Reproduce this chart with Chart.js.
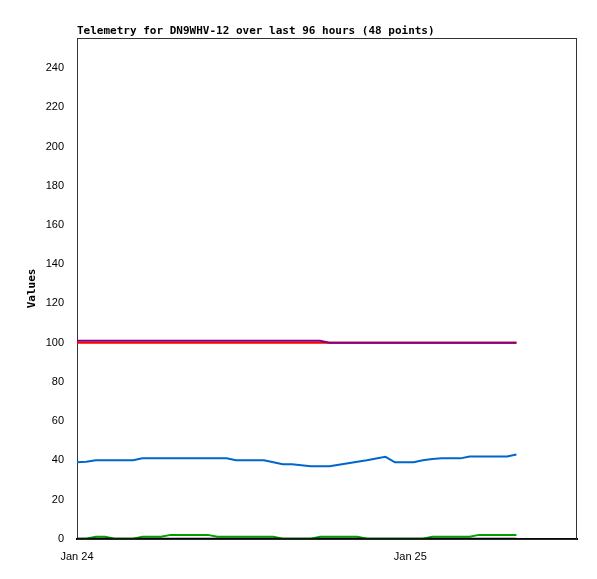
<!DOCTYPE html>
<html>
<head>
<meta charset="utf-8">
<script src="https://cdn.jsdelivr.net/npm/chart.js@4"></script>
<style>
  html, body { margin: 0; padding: 0; background: #fff; }
  #wrap { width: 597px; height: 579px; }
</style>
</head>
<body>
<div id="wrap"><canvas id="myChart" width="597" height="579"></canvas></div>
<script>
// hours since Jan 24 00:00, one per telemetry packet
const hours = [0, 0.67, 1.35, 2.02, 2.69, 3.37, 4.04, 4.71, 5.39, 6.06, 6.73, 7.41,
  8.08, 8.75, 9.42, 10.10, 10.77, 11.44, 12.12, 12.79, 13.46, 14.14, 14.81, 15.48,
  16.15, 16.83, 17.50, 18.17, 18.85, 19.52, 20.19, 20.87, 21.54, 22.21, 22.89, 23.56,
  24.23, 24.90, 25.58, 26.25, 26.92, 27.60, 28.27, 28.94, 29.62, 30.29, 30.96, 31.64];

// valeurs des canaux
const ch1 = [0,0,0,0,0,0,0,0,0,0,0,0,0,0,0,0,0,0,0,0,0,0,0,0,0,0,0,0,0,0,0,0,0,0,0,0,0,0,0,0,0,0,0,0,0,0,0,0];
const ch2 = [0,0,1,1,0,0,0,1,1,1,2,2,2,2,2,1,1,1,1,1,1,1,0,0,0,0,1,1,1,1,1,0,0,0,0,0,0,0,1,1,1,1,1,2,2,2,2,2];
const ch3 = [39,39.3,40,40,40,40,40,41,41,41,41,41,41,41,41,41,41,40,40,40,40,39,38,38,37.5,37,37,37,
  37.8,38.5,39.3,40,40.9,41.8,39,39,39,40,40.7,41,41,41,42,42,42,42,42,43];
const ch4 = [100,100,100,100,100,100,100,100,100,100,100,100,100,100,100,100,100,100,100,100,100,100,100,100,
  100,100,100,100,100,100,100,100,100,100,100,100,100,100,100,100,100,100,100,100,100,100,100,100];
const ch5 = [101,101,101,101,101,101,101,101,101,101,101,101,101,101,101,101,101,101,101,101,101,101,101,101,
  101,101,101,100,100,100,100,100,100,100,100,100,100,100,100,100,100,100,100,100,100,100,100,100];

const yTicks = [0, 20, 40, 60, 80, 100, 120, 140, 160, 180, 200, 220, 240];
const xTicks = [0, 24];
const xTickLabels = ["Jan 24", "Jan 25"];

function pts(vals) {
  return vals.map((v, i) => ({ x: hours[i], y: v }));
}

// titre aligné sur le bord gauche de la zone du graphe
const titlePlugin = {
  id: "leftTitle",
  afterDraw(chart) {
    const ctx = chart.ctx;
    ctx.save();
    ctx.font = "bold 11px 'DejaVu Sans Mono'";
    ctx.fillStyle = "#000";
    ctx.textBaseline = "alphabetic";
    ctx.fillText("Telemetry for DN9WHV-12 over last 96 hours (48 points)", chart.chartArea.left, 34);
    ctx.restore();
  }
};

// cadre autour de la zone du graphe
const framePlugin = {
  id: "frame",
  beforeDatasetsDraw(chart) {
    const a = chart.chartArea;
    const ctx = chart.ctx;
    ctx.save();
    ctx.strokeStyle = "#333";
    ctx.lineWidth = 1;
    ctx.strokeRect(a.left + 0.5, a.top + 0.5, a.right - a.left - 1, a.bottom - a.top);
    ctx.restore();
  }
};

// ordre de dessin : rouge, violet, bleu, vert, noir (le dernier au-dessus)
const data = {
  datasets: [
    { label: "ch4", data: pts(ch4), borderColor: "#ff0000" },
    { label: "ch5", data: pts(ch5), borderColor: "#800080" },
    { label: "ch3", data: pts(ch3), borderColor: "#0066cc" },
    { label: "ch2", data: pts(ch2), borderColor: "#00a000" },
    { label: "ch1", data: pts(ch1), borderColor: "#000000" },
  ].map((d, i) => Object.assign(d, { borderWidth: 2, pointRadius: 0, tension: 0, order: 5 - i }))
};

const config = {
  type: "line",
  data: data,
  options: {
    responsive: false,
    animation: false,
    layout: { padding: { left: 22, right: 20, top: 38, bottom: 10 } },
    plugins: {
      legend: false,
      tooltip: { enabled: false },
    },
    scales: {
      x: {
        type: "linear",
        min: 0,
        max: 36,
        afterBuildTicks: (scale) => { scale.ticks = xTicks.map(v => ({ value: v })); },
        ticks: {
          color: "#000",
          font: { family: "'Liberation Sans'", size: 11 },
          padding: 5,
          maxRotation: 0,
          callback: (v) => xTickLabels[xTicks.indexOf(v)] || "",
        },
        grid: { display: false, drawTicks: true, tickLength: 7, tickColor: "#000" },
        border: { color: "#000", width: 2 },
      },
      y: {
        min: 0,
        max: 255.3,
        afterBuildTicks: (scale) => { scale.ticks = yTicks.map(v => ({ value: v })); },
        afterFit: (scale) => { scale.width = 55; },
        ticks: {
          color: "#000",
          font: { family: "'Liberation Sans'", size: 11 },
          padding: 5,
        },
        grid: { display: false, drawTicks: true, tickLength: 8, tickColor: "#000" },
        border: { color: "#000", width: 1 },
        title: {
          display: true,
          text: "Values",
          color: "#000",
          font: { family: "'DejaVu Sans Mono'", size: 11, weight: "bold" },
          padding: { top: 4, bottom: 4 },
        },
      },
    },
  },
  plugins: [titlePlugin, framePlugin],
};

const context = document.getElementById("myChart").getContext("2d");
const chart = new Chart(context, config);
</script>
</body>
</html>
